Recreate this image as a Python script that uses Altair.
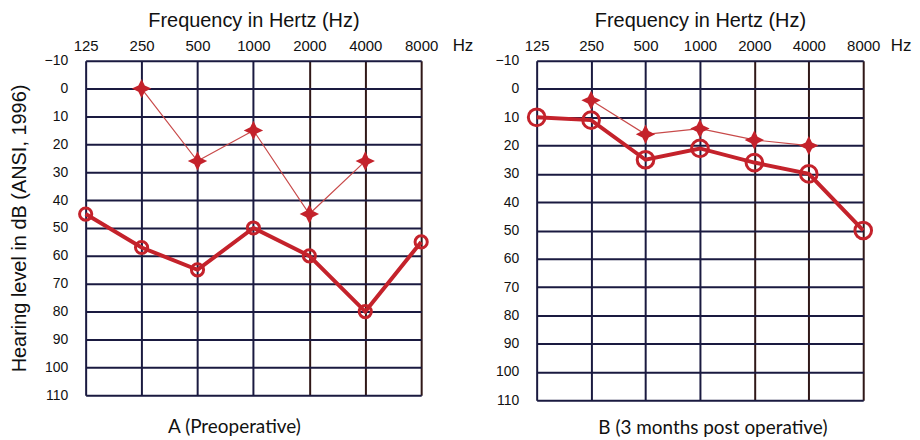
import altair as alt
import pandas as pd

freqs = [125, 250, 500, 1000, 2000, 4000, 8000]
bone_freqs = [250, 500, 1000, 2000, 4000]

a_air = [45, 57, 65, 50, 60, 80, 55]
a_bone = [0, 26, 15, 45, 26]
b_air = [10, 11, 25, 21, 26, 30, 50]
b_bone = [4, 16, 14, 18, 20]

y_ticks = list(range(-10, 111, 10))
captions = ["A (Preoperative)", "B (3 months post operative)"]

RED = "#c4222b"
STAR = "M0,-1 L0.33,-0.33 L1,0 L0.33,0.33 L0,1 L-0.33,0.33 L-1,0 L-0.33,-0.33 Z"
GRID = {"condition": {"test": "datum.value >= 2000", "value": "#301818"}, "value": "#1a1a40"}
FONT = "Liberation Sans"


def panel(air, bone, w, h, caption, ytitle, circ_size, cap_dx, cap_off, hz_dx):
    air_df = pd.DataFrame({"f": freqs, "db": air})
    bone_df = pd.DataFrame({"f": bone_freqs, "db": bone})
    x = alt.X(
        "f:Q",
        scale=alt.Scale(type="log", base=2, domain=[125, 8000]),
        axis=alt.Axis(
            orient="top", values=freqs, format="d", title="Frequency in Hertz (Hz)",
            titleFont=FONT, titleFontSize=20, titleFontWeight="normal",
            titleColor="#111", titlePadding=8,
            labelFont=FONT, labelFontSize=15, labelColor="#111",
            labelPadding=7, ticks=False, domain=False, labelFlush=False,
            grid=True, gridColor=GRID, gridWidth=2, gridOpacity=1,
        ),
    )
    yaxis = dict(
        values=y_ticks, ticks=False, domain=False,
        labelFont=FONT, labelFontSize=14, labelColor="#111",
        labelPadding=18, grid=True, gridColor="#1a1a40", gridWidth=2, gridOpacity=1,
    )
    if ytitle:
        yaxis.update(title=ytitle, titleFont=FONT, titleFontSize=20,
                     titleFontWeight="normal", titleColor="#111", titlePadding=15)
    else:
        yaxis.update(title=None)
    y = alt.Y("db:Q", scale=alt.Scale(domain=[-10, 110], reverse=True, nice=False),
              axis=alt.Axis(**yaxis))

    air_line = alt.Chart(air_df).mark_line(color=RED, strokeWidth=4, clip=False).encode(x=x, y=y)
    air_pts = alt.Chart(air_df).mark_point(
        shape="circle", filled=False, color=RED, strokeWidth=3, size=circ_size, opacity=1, clip=False
    ).encode(x=x, y=y)
    bone_line = alt.Chart(bone_df).mark_line(color="#c84a4a", strokeWidth=1.2).encode(x=x, y=y)
    bone_pts = alt.Chart(bone_df).mark_point(
        shape=STAR, filled=True, color=RED, size=380, opacity=1
    ).encode(x=x, y=y)
    hz = alt.Chart(pd.DataFrame({"t": ["Hz"]})).mark_text(
        font=FONT, fontSize=17, color="#111", align="center", baseline="middle"
    ).encode(text="t:N", x=alt.value(w + hz_dx), y=alt.value(-15))

    return alt.layer(air_line, bone_line, air_pts, bone_pts, hz).properties(
        width=w, height=h,
        title=alt.TitleParams(caption, orient="bottom", anchor="middle", font="Lato",
                              fontSize=19, fontWeight="normal", color="#111",
                              offset=cap_off, dx=cap_dx),
    )


pa = panel(a_air, a_bone, 337, 336, captions[0], "Hearing level in dB (ANSI, 1996)", 150, -19, 16, 42)
pb = panel(b_air, b_bone, 328, 341, captions[1], None, 280, 13, 12, 38)

chart = alt.hconcat(pa, pb, spacing=20).configure_view(
    stroke="black", strokeWidth=4
).configure(background="white", padding={"left": 0, "top": 1, "right": 0, "bottom": 0})

chart.save("out.html", embed_options={"renderer": "svg", "actions": False})
